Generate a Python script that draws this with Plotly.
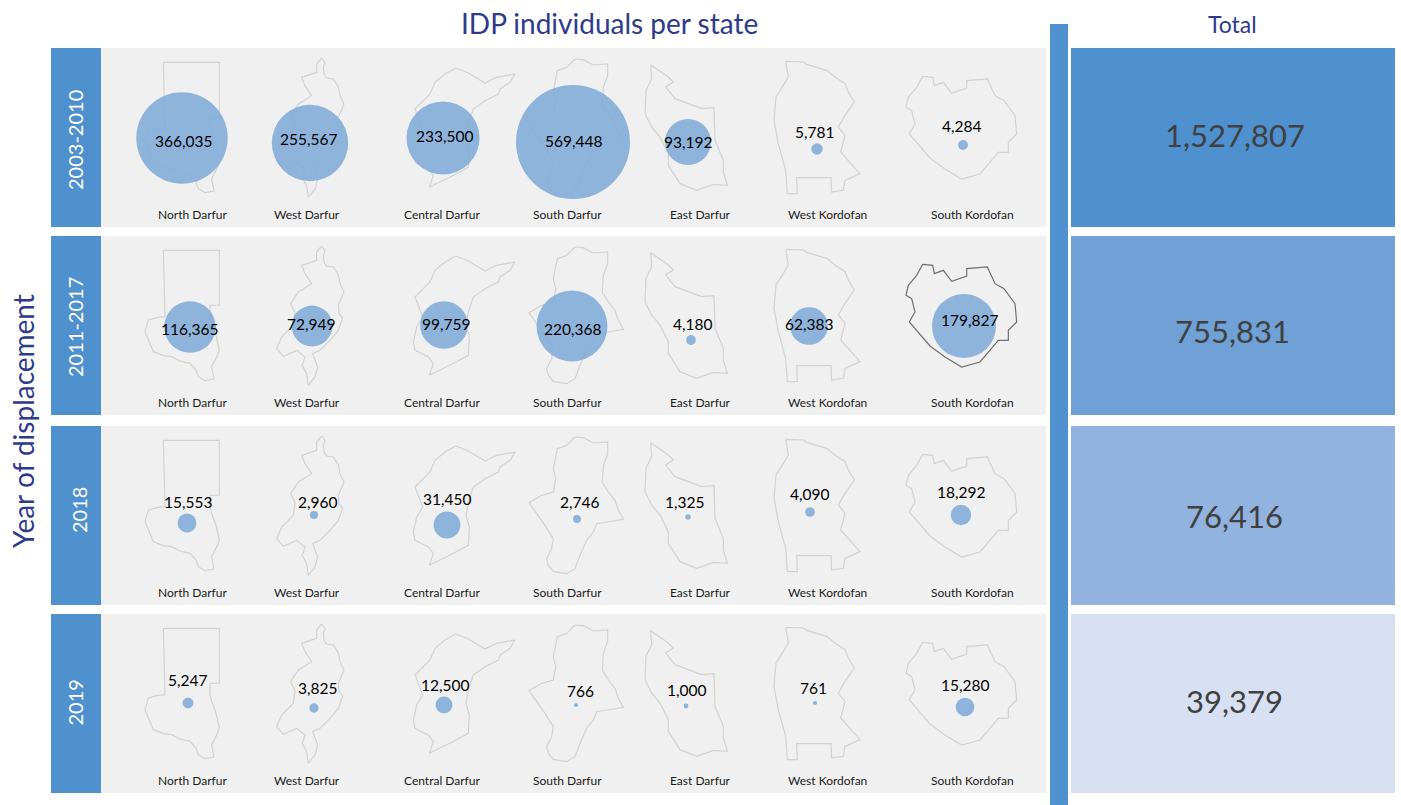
import plotly.graph_objects as go

FONT = "Lato"
years = ["2003-2010", "2011-2017", "2018", "2019"]
states = ["North Darfur", "West Darfur", "Central Darfur", "South Darfur",
          "East Darfur", "West Kordofan", "South Kordofan"]
vals_2003 = [366035, 255567, 233500, 569448, 93192, 5781, 4284]
vals_2011 = [116365, 72949, 99759, 220368, 4180, 62383, 179827]
vals_2018 = [15553, 2960, 31450, 2746, 1325, 4090, 18292]
vals_2019 = [5247, 3825, 12500, 766, 1000, 761, 15280]
values = [vals_2003, vals_2011, vals_2018, vals_2019]
totals = [1527807, 755831, 76416, 39379]
total_colors = ["#4f90ce", "#6fa0d6", "#92b3df", "#d8e1f3"]

# layout in page pixels
row_top = [48, 236, 426, 614]
row_h = 179
bub_x = [[182, 310, 443, 573, 688, 817, 963], [190, 312, 444, 572, 691, 809, 964],
         [187, 314, 447, 577, 688, 810, 961], [188, 314, 444, 576, 686, 815, 965]]
bub_y = [[138, 143, 138, 142, 142, 149, 145], [327, 326, 325, 326, 340, 326, 326],
         [523, 515, 525, 519, 517, 512, 515], [703, 708, 705, 705, 706, 703, 707]]
lab_x = [[183, 308, 444, 573, 688, 814, 961], [189, 311, 446, 572, 692, 809, 969],
         [188, 317, 447, 579, 684, 809, 961], [187, 317, 445, 580, 686, 813, 965]]
lab_y = [[141, 139, 136, 141, 142, 132, 126], [329, 324, 324, 329, 324, 324, 320],
         [502, 502, 499, 502, 502, 494, 492], [680, 688, 685, 691, 690, 688, 685]]
name_x = [192, 307, 442, 567, 700, 827, 972]
year_x = [75, 75, 78.5, 74]
year_y = [140, 327, 510.5, 702.5]
total_y = [135, 331, 516, 701]
total_x = [1235, 1232, 1234, 1234]

# state outlines at 3x; origin is (page x, offset below the row top)
north = [(100,46),(268,46),(268,210),(240,211),(240,245),(246,268),(258,300),(268,345),(262,362),(245,395),(252,432),(225,437),(205,425),(198,405),(180,385),(150,378),(125,365),(100,362),(70,350),(60,325),(45,290),(55,255),(80,248),(105,245),(100,46)]
west = [(155,12),(165,25),(160,40),(162,60),(170,72),(190,75),(205,98),(210,125),(222,150),(205,190),(207,215),(218,228),(205,265),(180,295),(150,325),(128,335),(143,375),(135,405),(115,430),(110,395),(97,370),(105,345),(80,325),(40,343),(20,320),(35,285),(70,250),(75,212),(62,185),(85,150),(125,125),(105,95),(95,70),(140,55),(140,30),(155,12)]
central = [(137,27),(175,42),(225,72),(260,55),(315,45),(300,70),(270,90),(265,105),(225,125),(190,150),(175,195),(168,235),(178,270),(175,325),(125,352),(90,370),(58,385),(70,350),(55,330),(15,310),(10,285),(20,240),(38,210),(15,150),(60,105),(75,70),(105,45),(137,27)]
south = [(150,15),(175,17),(205,33),(248,30),(248,65),(235,100),(232,150),(250,180),(270,205),(280,235),(295,262),(260,268),(215,275),(205,300),(185,325),(165,370),(150,410),(125,425),(85,418),(70,400),(65,380),(80,350),(85,320),(60,280),(35,245),(12,212),(50,190),(85,180),(92,140),(85,110),(97,50),(125,40),(150,15)]
east = [(392,53),(420,72),(445,90),(460,105),(437,120),(465,155),(510,172),(545,185),(582,182),(585,280),(610,340),(610,375),(622,415),(580,412),(530,430),(480,410),(445,355),(445,320),(420,270),(395,240),(375,200),(378,130),(395,95),(392,53)]
wkord = [(797,43),(850,45),(860,52),(920,70),(945,90),(975,110),(985,135),(1003,165),(975,205),(955,240),(975,265),(962,315),(1020,380),(975,400),(970,430),(935,435),(933,392),(830,392),(832,440),(802,440),(797,370),(775,290),(762,220),(768,150),(790,115),(805,90),(797,43)]
skord = [(68,37),(98,40),(103,65),(130,55),(155,88),(200,72),(200,50),(262,45),(285,95),(312,110),(345,155),(350,210),(325,235),(325,265),(295,265),(240,330),(185,345),(135,315),(90,282),(55,240),(28,210),(45,180),(35,140),(18,130),(25,100),(50,70),(68,37)]
outlines = [north, west, central, south, east, wkord, skord]
origins = [(130, -1), (270, 6), (410, 11), (525, 6), (520, -1), (520, -1), (900, 16)]

fig = go.Figure()
shapes, annos = [], []


def rect(x0, y0, x1, y1, color):
    shapes.append(dict(type="rect", x0=x0, x1=x1, y0=y0, y1=y1, xref="x", yref="y",
                       fillcolor=color, line_width=0, layer="below"))


def label(x, y, text, size, color, angle=0):
    annos.append(dict(x=x, y=y, xref="x", yref="y", text=text, showarrow=False, textangle=angle,
                      font=dict(family=FONT, size=size, color=color), xanchor="center", yanchor="middle"))


rect(1050, 24, 1068, 805, "#4f90ce")
for r, top in enumerate(row_top):
    rect(51, top, 101, top + row_h, "#4f90ce")
    rect(101, top, 1046, top + row_h, "#f0f0f0")
    rect(1071, top, 1395, top + row_h, total_colors[r])
    label(year_x[r], year_y[r], years[r], 20, "#ffffff", -90)
    label(total_x[r], total_y[r], f"{totals[r]:,}", 31, "#404040")
    for s, pts in enumerate(outlines):
        ox, oy = origins[s]
        xs = [ox + p[0] / 3 for p in pts]
        ys = [top + oy + p[1] / 3 for p in pts]
        dark = (r == 1 and s == 6)
        fig.add_trace(go.Scatter(x=xs, y=ys, mode="lines", hoverinfo="skip", showlegend=False,
                                 line=dict(color="#707070" if dark else "#d2d2d2", width=1.2)))
        label(name_x[s], top + 166.5, states[s], 12, "#1a1a1a")

max_px = 114
for r in range(4):
    fig.add_trace(go.Scatter(
        x=bub_x[r], y=bub_y[r], mode="markers", hoverinfo="skip", showlegend=False,
        marker=dict(size=values[r], sizemode="area", sizeref=2 * max(vals_2003) / max_px ** 2,
                    color="#84add9", opacity=0.9, line_width=0)))
    for s in range(7):
        label(lab_x[r][s], lab_y[r][s], f"{values[r][s]:,}", 15.5, "#000000")

label(609, 23, "IDP individuals per state", 28, "#2e3a8c")
label(1232, 24, "Total", 23, "#2e3a8c")
label(23, 421, "Year of displacement", 28, "#2e3a8c", -90)

fig.update_layout(
    width=1401, height=805, margin=dict(l=0, r=0, t=0, b=0), autosize=False,
    paper_bgcolor="#ffffff", plot_bgcolor="#ffffff", shapes=shapes, annotations=annos,
    xaxis=dict(range=[0, 1401], visible=False, fixedrange=True),
    yaxis=dict(range=[805, 0], visible=False, fixedrange=True),
)
fig.write_html("out.html", config=dict(displayModeBar=False),
               post_script="document.body.style.margin='0';document.body.style.overflow='hidden';")
